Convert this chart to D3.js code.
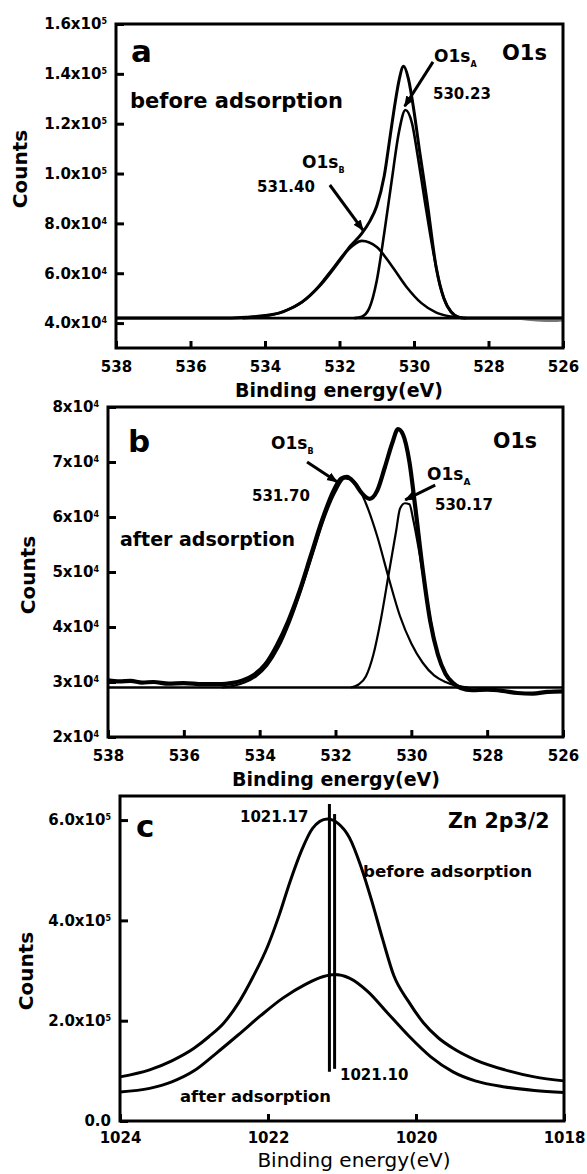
<!DOCTYPE html>
<html>
<head>
<meta charset="utf-8">
<script src="https://cdn.jsdelivr.net/npm/d3@7"></script>
<style>
  body { margin: 0; background: #fff; }
  svg { display: block; }
  text { font-family: "DejaVu Sans", sans-serif; }
</style>
</head>
<body>
<svg id="chart" width="587" height="1174"></svg>
<script>
// tick values and labels
const o1sTicks = [538, 536, 534, 532, 530, 528, 526];
const znTicks = [1024, 1022, 1020, 1018];

const aYTicks = [40000, 60000, 80000, 100000, 120000, 140000, 160000];
const aYMant = ["4.0", "6.0", "8.0", "1.0", "1.2", "1.4", "1.6"];
const aYExp = ["4", "4", "4", "5", "5", "5", "5"];

const bYTicks = [20000, 30000, 40000, 50000, 60000, 70000, 80000];
const bYMant = ["2", "3", "4", "5", "6", "7", "8"];
const bYExp = ["4", "4", "4", "4", "4", "4", "4"];

const cYTicks = [0, 200000, 400000, 600000];
const cYMant = ["0.0", "2.0", "4.0", "6.0"];
const cYExp = ["", "5", "5", "5"];

// panel a : O1s before adsorption  [energy eV, counts]
const aBaseline = [[538, 42000], [526, 42000]];
const aEnvelope = [[538, 42000], [535, 42000], [534.5, 42300], [534, 43000], [533.5, 44600], [533, 48500],
  [532.5, 55500], [532, 65000], [531.7, 71000], [531.4, 76000], [531.2, 80500], [531, 87000],
  [530.8, 99000], [530.64, 115000], [530.5, 129000], [530.4, 137500], [530.28, 143000], [530.15, 138000],
  [530, 125000], [529.85, 109000], [529.65, 89000], [529.4, 62000], [529.2, 50000], [529, 44500],
  [528.8, 42400], [528.6, 42000], [526, 42000]];
const aPeakA = [[531.6, 42000], [531.4, 42600], [531.2, 46000], [531, 57000], [530.8, 76000], [530.6, 97000],
  [530.4, 117000], [530.23, 125500], [530.05, 120000], [529.9, 107000], [529.7, 88000], [529.5, 70000],
  [529.3, 55000], [529.1, 46500], [528.9, 43000], [528.7, 42000]];
const aPeakB = [[534.6, 42000], [534.2, 42400], [533.8, 43300], [533.4, 45300], [533, 48500], [532.6, 54000],
  [532.2, 61500], [531.8, 69000], [531.4, 73000], [531, 70500], [530.6, 63000], [530.2, 54500],
  [529.8, 48000], [529.4, 44200], [529, 42600], [528.6, 42000]];
const aRawTail = [[527.4, 42000], [527, 41500], [526.6, 41000], [526.3, 40900], [526, 41100]];

// panel b : O1s after adsorption
const bBaseline = [[538, 29000], [526, 29000]];
const bData = [[538, 30300], [537.7, 30100], [537.4, 30200], [537.1, 29900], [536.8, 30000], [536.4, 29700],
  [536, 29800], [535.5, 29600], [535, 29600], [534.75, 29800], [534.45, 30300], [534.15, 31300],
  [533.85, 33200], [533.55, 36600], [533.25, 41000], [532.95, 46500], [532.65, 53000], [532.35, 59500],
  [532.05, 64800], [531.85, 67000], [531.7, 67300], [531.5, 66200], [531.3, 64300], [531.1, 63300],
  [530.9, 64800], [530.7, 69000], [530.5, 73500], [530.35, 76000], [530.22, 75000], [530.05, 70000],
  [529.9, 62000], [529.7, 50500], [529.5, 41000], [529.3, 35000], [529.1, 31500], [528.9, 29800],
  [528.7, 28900], [528.4, 28500], [528, 28600], [527.6, 28400], [527.2, 28000], [526.8, 27900],
  [526.4, 28200], [526, 28300]];
const bPeakA = [[531.6, 29000], [531.4, 29500], [531.2, 31000], [531, 35000], [530.8, 41500], [530.6, 49500],
  [530.4, 57500], [530.3, 61500], [530.17, 62500], [530.05, 62300], [529.95, 59500], [529.8, 54000],
  [529.6, 45500], [529.4, 38000], [529.2, 33000], [529, 30500], [528.8, 29400], [528.6, 29000]];
const bPeakB = [[535, 29000], [534.7, 29300], [534.4, 29900], [534.1, 31000], [533.8, 33000], [533.5, 36300],
  [533.2, 41000], [532.9, 46800], [532.6, 53300], [532.3, 59700], [532, 64600], [531.75, 67000],
  [531.5, 66400], [531.2, 62500], [530.9, 56500], [530.6, 49000], [530.3, 42000], [530, 37000],
  [529.7, 33500], [529.4, 31200], [529.1, 30000], [528.8, 29300], [528.5, 29000]];

// panel c : Zn 2p3/2
const cBefore = [[1024, 88000], [1023.6, 102000], [1023.3, 120000], [1023, 145000], [1022.8, 168000],
  [1022.6, 195000], [1022.4, 235000], [1022.2, 288000], [1022, 350000], [1021.85, 410000],
  [1021.7, 478000], [1021.55, 538000], [1021.4, 583000], [1021.2, 602000], [1021.05, 593000],
  [1020.9, 565000], [1020.75, 510000], [1020.6, 440000], [1020.45, 362000], [1020.3, 290000],
  [1020.1, 238000], [1019.9, 196000], [1019.7, 166000], [1019.5, 145000], [1019.2, 122000],
  [1018.8, 102000], [1018.4, 88000], [1018, 80000]];
const cAfter = [[1024, 58000], [1023.6, 65000], [1023.3, 78000], [1023, 100000], [1022.7, 135000],
  [1022.4, 172000], [1022.1, 210000], [1021.8, 245000], [1021.5, 272000], [1021.25, 288000],
  [1021.1, 292000], [1020.9, 285000], [1020.65, 258000], [1020.4, 218000], [1020.1, 170000],
  [1019.8, 128000], [1019.5, 98000], [1019.2, 80000], [1018.8, 68000], [1018.4, 61000], [1018, 57000]];
const cMarkEnergy = [1021.17, 1021.10];
const cMarkTop = [632000, 612000];
const cMarkBottom = [98000, 104000];

const svg = d3.select("#chart");

svg.append("defs").append("marker")
  .attr("id", "arrow")
  .attr("viewBox", "0 0 10 10")
  .attr("refX", 9).attr("refY", 5)
  .attr("markerWidth", 11).attr("markerHeight", 11)
  .attr("markerUnits", "userSpaceOnUse")
  .attr("orient", "auto")
  .append("path").attr("d", "M0,1 L10,5 L0,9 Z").attr("fill", "#000");

function makePanel(p) {
  const x = d3.scaleLinear().domain(p.xDomain).range([p.left, p.right]);
  const y = d3.scaleLinear().domain(p.yDomain).range([p.bottom, p.top]);
  const g = svg.append("g");

  const xg = g.append("g")
    .attr("transform", `translate(0,${p.bottom})`)
    .call(d3.axisBottom(x).tickValues(p.xTicks).tickSize(-7).tickPadding(p.xPad || 13).tickFormat(d => d));
  const yg = g.append("g")
    .attr("transform", `translate(${p.left},0)`)
    .call(d3.axisLeft(y).tickValues(p.yTicks).tickSize(-8).tickPadding(9));

  [xg, yg].forEach(a => {
    a.attr("font-family", "DejaVu Sans").attr("font-size", 15).attr("font-weight", "bold");
    a.select(".domain").remove();
    a.selectAll(".tick line").attr("stroke", "#000").attr("stroke-width", 3);
    a.selectAll(".tick text").attr("fill", "#000");
  });

  yg.selectAll(".tick text").each(function(d, i) {
    const t = d3.select(this).text("");
    t.append("tspan").text(p.yMant[i] + (p.yExp[i] ? "x10" : ""));
    if (p.yExp[i]) {
      t.append("tspan").attr("dy", "-0.62em").attr("font-size", 8).text(p.yExp[i]);
    }
  });

  const plot = g.append("g");
  g.append("rect")
    .attr("x", p.left).attr("y", p.top)
    .attr("width", p.right - p.left).attr("height", p.bottom - p.top)
    .attr("fill", "none").attr("stroke", "#000").attr("stroke-width", 3);

  const line = d3.line().x(d => x(d[0])).y(d => y(d[1])).curve(d3.curveMonotoneX);
  return { g, plot, x, y, line };
}

function curve(pn, data, width, color) {
  pn.plot.append("path")
    .datum(data)
    .attr("d", pn.line)
    .attr("fill", "none")
    .attr("stroke", color || "#000")
    .attr("stroke-width", width)
    .attr("stroke-linejoin", "round");
}

function label(x, y, str, size, opts) {
  opts = opts || {};
  const t = svg.append("text")
    .attr("x", x).attr("y", y)
    .attr("font-size", size)
    .attr("font-weight", opts.weight || "bold")
    .attr("text-anchor", opts.anchor || "start")
    .attr("fill", "#000")
    .text(str);
  if (opts.family) t.attr("font-family", opts.family);
  if (opts.sub) {
    t.append("tspan").attr("dy", opts.subDy || 5).attr("font-size", opts.subSize || 8).text(opts.sub);
  }
  return t;
}

function vlabel(x, y, str, size) {
  svg.append("text")
    .attr("transform", `translate(${x},${y}) rotate(-90)`)
    .attr("text-anchor", "middle")
    .attr("font-size", size)
    .attr("font-weight", "bold")
    .text(str);
}

function arrow(pn, from, to, head) {
  const l = pn.plot.append("line")
    .attr("x1", pn.x(from[0])).attr("y1", pn.y(from[1]))
    .attr("x2", pn.x(to[0])).attr("y2", pn.y(to[1]))
    .attr("stroke", "#000").attr("stroke-width", 3);
  if (head) l.attr("marker-end", "url(#arrow)");
}

// ---- panel a
const pa = makePanel({
  left: 116, right: 563, top: 24, bottom: 348,
  xDomain: [538, 526], yDomain: [30000, 160000],
  xTicks: o1sTicks, yTicks: aYTicks, yMant: aYMant, yExp: aYExp
});
curve(pa, aBaseline, 2.6);
curve(pa, aRawTail, 2.2, "#777");
curve(pa, aPeakB, 2.6);
curve(pa, aPeakA, 2.6);
curve(pa, aEnvelope, 3);
arrow(pa, [532.26, 95400], [531.37, 77300], true);
arrow(pa, [529.49, 144800], [530.25, 127000], true);

label(131, 62, "a", 31, { family: "Liberation Sans" });
label(130, 108, "before adsorption", 21);
label(502, 60, "O1s", 21);
label(434, 62, "O1s", 17, { sub: "A", subSize: 8 });
label(433, 99, "530.23", 15);
label(302, 168, "O1s", 17, { sub: "B", subSize: 8 });
label(257, 192, "531.40", 15);
vlabel(27, 169, "Counts", 20);
label(339, 397, "Binding energy(eV)", 19, { anchor: "middle" });

// ---- panel b
const pb = makePanel({
  left: 108, right: 563, top: 407, bottom: 737,
  xDomain: [538, 526], yDomain: [20000, 80000],
  xTicks: o1sTicks, yTicks: bYTicks, yMant: bYMant, yExp: bYExp
});
curve(pb, bBaseline, 2.6);
curve(pb, bPeakB, 2.2);
curve(pb, bPeakA, 2.2);
curve(pb, bData, 4.2);
arrow(pb, [532.75, 70000], [531.96, 66400], true);
arrow(pb, [529.37, 65800], [530.16, 63100], true);

label(128, 452, "b", 31, { family: "Liberation Sans" });
label(493, 448, "O1s", 20.5);
label(271, 449, "O1s", 17, { sub: "B", subSize: 8 });
label(252, 501, "531.70", 15);
label(120, 546, "after adsorption", 19);
label(427, 480, "O1s", 17, { sub: "A", subSize: 9 });
label(435, 510, "530.17", 15);
vlabel(35, 575, "Counts", 20);
label(336, 786, "Binding energy(eV)", 19, { anchor: "middle" });

// ---- panel c
const pc = makePanel({
  left: 120, right: 564, top: 796, bottom: 1121,
  xDomain: [1024, 1018], yDomain: [0, 648000],
  xTicks: znTicks, yTicks: cYTicks, yMant: cYMant, yExp: cYExp, xPad: 11
});
curve(pc, cBefore, 3);
curve(pc, cAfter, 3);
cMarkEnergy.forEach((e, i) => {
  pc.plot.append("line")
    .attr("x1", pc.x(e)).attr("x2", pc.x(e))
    .attr("y1", pc.y(cMarkTop[i])).attr("y2", pc.y(cMarkBottom[i]))
    .attr("stroke", "#000").attr("stroke-width", 3);
});

label(136, 837, "c", 31, { family: "Liberation Sans" });
label(240, 822, "1021.17", 15);
label(448, 828, "Zn 2p3/2", 20.5);
label(363, 877, "before adsorption", 16.7);
label(340, 1080, "1021.10", 15);
label(180, 1102, "after adsorption", 16.4);
vlabel(33, 971, "Counts", 20);
label(354, 1167, "Binding energy(eV)", 20, { anchor: "middle", weight: "normal" });
</script>
</body>
</html>
